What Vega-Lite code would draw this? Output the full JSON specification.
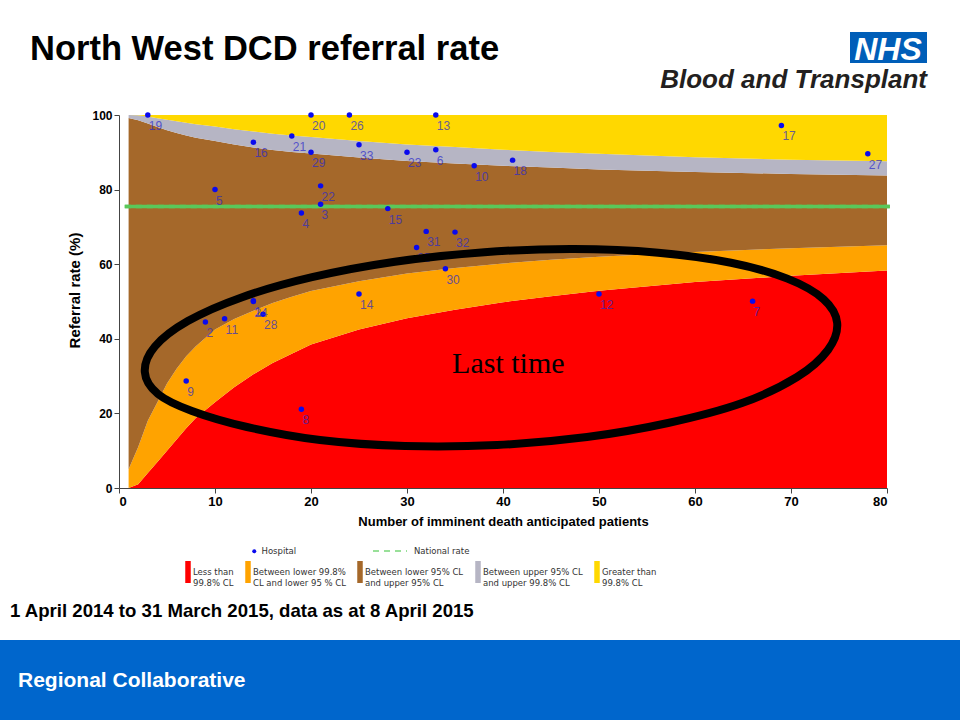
{
  "$schema": "https://vega.github.io/schema/vega-lite/v6.json",
  "width": 960,
  "height": 720,
  "autosize": {"type": "none"},
  "padding": 0,
  "background": "#ffffff",
  "config": {"view": {"stroke": null}, "font": "Liberation Sans"},
  "datasets": {
    "funnel": [
      {"n": 1, "l998": 0, "l95": 5, "u95": 99.2, "u998": 100},
      {"n": 2, "l998": 1, "l95": 11, "u95": 98.6, "u998": 99.9},
      {"n": 3, "l998": 4, "l95": 18, "u95": 97.7, "u998": 99.6},
      {"n": 4, "l998": 7, "l95": 23, "u95": 96.8, "u998": 99.1},
      {"n": 5, "l998": 10, "l95": 28, "u95": 95.9, "u998": 98.7},
      {"n": 6, "l998": 13, "l95": 32, "u95": 95.2, "u998": 98.3},
      {"n": 7, "l998": 16, "l95": 35.3, "u95": 94.5, "u998": 97.9},
      {"n": 8, "l998": 18.8, "l95": 38, "u95": 93.9, "u998": 97.5},
      {"n": 10, "l998": 23, "l95": 42.5, "u95": 93, "u998": 96.9},
      {"n": 12, "l998": 27, "l95": 45.3, "u95": 92.1, "u998": 96.2},
      {"n": 14, "l998": 30.5, "l95": 47.5, "u95": 91.3, "u998": 95.6},
      {"n": 16, "l998": 33.5, "l95": 49.6, "u95": 90.6, "u998": 95},
      {"n": 18, "l998": 36, "l95": 51.3, "u95": 90.1, "u998": 94.5},
      {"n": 20, "l998": 38.5, "l95": 52.8, "u95": 89.7, "u998": 94.1},
      {"n": 25, "l998": 42.5, "l95": 55.4, "u95": 88.6, "u998": 93},
      {"n": 30, "l998": 45.5, "l95": 57.5, "u95": 87.7, "u998": 92.1},
      {"n": 35, "l998": 47.8, "l95": 59, "u95": 87, "u998": 91.4},
      {"n": 40, "l998": 49.8, "l95": 60.2, "u95": 86.4, "u998": 90.7},
      {"n": 45, "l998": 51.4, "l95": 61.2, "u95": 85.9, "u998": 90.1},
      {"n": 50, "l998": 52.9, "l95": 62, "u95": 85.4, "u998": 89.6},
      {"n": 60, "l998": 55.2, "l95": 63.3, "u95": 84.7, "u998": 88.7},
      {"n": 70, "l998": 56.9, "l95": 64.3, "u95": 84.2, "u998": 88},
      {"n": 80, "l998": 58.3, "l95": 65.1, "u95": 83.8, "u998": 87.6}
    ],
    "hosp": [
      {"id": "1", "n": 14, "rate": 50.2},
      {"id": "2", "n": 9, "rate": 44.5},
      {"id": "3", "n": 21, "rate": 76.1},
      {"id": "4", "n": 19, "rate": 73.7},
      {"id": "5", "n": 10, "rate": 80.0},
      {"id": "6", "n": 33, "rate": 90.7},
      {"id": "7", "n": 66, "rate": 50.1},
      {"id": "8", "n": 19, "rate": 21.1},
      {"id": "9", "n": 7, "rate": 28.7},
      {"id": "10", "n": 37, "rate": 86.4},
      {"id": "11", "n": 11, "rate": 45.4},
      {"id": "12", "n": 50, "rate": 52.0},
      {"id": "13", "n": 33, "rate": 100},
      {"id": "14", "n": 25, "rate": 52.0},
      {"id": "15", "n": 28, "rate": 74.9},
      {"id": "16", "n": 14, "rate": 92.7},
      {"id": "17", "n": 69, "rate": 97.2},
      {"id": "18", "n": 41, "rate": 87.9},
      {"id": "19", "n": 3, "rate": 100},
      {"id": "20", "n": 20, "rate": 100},
      {"id": "21", "n": 18, "rate": 94.4},
      {"id": "22", "n": 21, "rate": 81.0},
      {"id": "23", "n": 30, "rate": 90.0},
      {"id": "24", "n": 14, "rate": 50.0},
      {"id": "25", "n": 31, "rate": 64.5},
      {"id": "26", "n": 24, "rate": 100},
      {"id": "27", "n": 78, "rate": 89.6},
      {"id": "28", "n": 15, "rate": 46.6},
      {"id": "29", "n": 20, "rate": 90.0},
      {"id": "30", "n": 34, "rate": 58.8},
      {"id": "31", "n": 32, "rate": 68.8},
      {"id": "32", "n": 35, "rate": 68.6},
      {"id": "33", "n": 25, "rate": 92.0}
    ],
    "ellipse": [
      {"i": 1, "n": 74.81, "rate": 44.24},
      {"i": 2, "n": 73.39, "rate": 50.63},
      {"i": 3, "n": 69.62, "rate": 56.14},
      {"i": 4, "n": 63.75, "rate": 60.39},
      {"i": 5, "n": 56.17, "rate": 63.09},
      {"i": 6, "n": 47.4, "rate": 64.06},
      {"i": 7, "n": 38.05, "rate": 63.23},
      {"i": 8, "n": 28.74, "rate": 60.66},
      {"i": 9, "n": 20.11, "rate": 56.52},
      {"i": 10, "n": 12.76, "rate": 51.1},
      {"i": 11, "n": 7.17, "rate": 44.76},
      {"i": 12, "n": 3.74, "rate": 37.94},
      {"i": 13, "n": 2.69, "rate": 31.1},
      {"i": 14, "n": 4.06, "rate": 25.2},
      {"i": 15, "n": 7.6, "rate": 20.64},
      {"i": 16, "n": 13.33, "rate": 16.35},
      {"i": 17, "n": 20.94, "rate": 12.87},
      {"i": 18, "n": 29.79, "rate": 11.26},
      {"i": 19, "n": 39.38, "rate": 11.53},
      {"i": 20, "n": 48.75, "rate": 13.67},
      {"i": 21, "n": 57.19, "rate": 17.43},
      {"i": 22, "n": 64.9, "rate": 22.79},
      {"i": 23, "n": 70.63, "rate": 29.76},
      {"i": 24, "n": 73.85, "rate": 37.0}
    ]
  },
  "layer": [
    {
      "layer": [
        {
          "data": {"name": "funnel"},
          "mark": {"type": "area", "opacity": 1},
          "encoding": {
            "x": {
              "field": "n", "type": "quantitative",
              "scale": {"domain": [0, 80], "range": [119, 887], "nice": false, "zero": false},
              "axis": {
                "title": "Number of imminent death anticipated patients",
                "offset": -232, "values": [0, 10, 20, 30, 40, 50, 60, 70, 80],
                "grid": false, "tickSize": 5, "domainColor": "#444444", "tickColor": "#444444",
                "labelFont": "Liberation Sans Narrow, Liberation Sans", "labelFontWeight": "bold", "labelFontSize": 13, "labelColor": "#000000", "labelPadding": 2,
                "titleFont": "Liberation Sans Narrow, Liberation Sans", "titleFontWeight": "bold", "titleFontSize": 13, "titleColor": "#000000", "titlePadding": 7
              }
            },
            "y": {
              "field": "l998", "type": "quantitative",
              "scale": {"domain": [0, 100], "range": [488, 115], "nice": false, "zero": false},
              "axis": {
                "title": "Referral rate (%)",
                "offset": -119, "values": [0, 20, 40, 60, 80, 100],
                "grid": false, "tickSize": 5, "domainColor": "#444444", "tickColor": "#444444",
                "labelFontWeight": "bold", "labelFontSize": 12, "labelColor": "#000000", "labelPadding": 2,
                "titleFontWeight": "bold", "titleFontSize": 15, "titleColor": "#000000", "titlePadding": 9, "titleY": 290
              }
            },
            "y2": {"datum": 0},
            "color": {
              "datum": "Less than|99.8% CL", "type": "nominal",
              "scale": {
                "domain": ["Less than|99.8% CL", "Between lower 99.8%|CL and lower 95 % CL", "Between lower 95% CL|and upper 95% CL", "Between upper 95% CL|and upper 99.8% CL", "Greater than|99.8% CL"],
                "range": ["#ff0000", "#ffa300", "#a5682a", "#b6b5c4", "#ffd800"]
              },
              "legend": {
                "orient": "none", "legendX": 177, "legendY": 561, "direction": "horizontal", "columns": 5, "title": null,
                "symbolType": "M-0.25,-1H0.25V1H-0.25Z", "symbolSize": 484, "symbolStrokeWidth": 0,
                "labelExpr": "split(datum.label, '|')", "labelFont": "DejaVu Sans", "labelFontSize": 8.5, "labelColor": "#333333",
                "labelOffset": -6, "labelLimit": 300, "columnPadding": 3, "padding": 0,
                "encode": {"labels": {"update": {"lineHeight": {"value": 11.5}}}}
              }
            }
          }
        },
        {
          "data": {"name": "funnel"},
          "mark": {"type": "area", "opacity": 1},
          "encoding": {
            "x": {"field": "n", "type": "quantitative", "title": "Number of imminent death anticipated patients"},
            "y": {"field": "l95", "type": "quantitative", "title": "Referral rate (%)"},
            "y2": {"field": "l998"},
            "color": {"datum": "Between lower 99.8%|CL and lower 95 % CL", "type": "nominal"}
          }
        },
        {
          "data": {"name": "funnel"},
          "mark": {"type": "area", "opacity": 1},
          "encoding": {
            "x": {"field": "n", "type": "quantitative", "title": "Number of imminent death anticipated patients"},
            "y": {"field": "u95", "type": "quantitative", "title": "Referral rate (%)"},
            "y2": {"field": "l95"},
            "color": {"datum": "Between lower 95% CL|and upper 95% CL", "type": "nominal"}
          }
        },
        {
          "data": {"name": "funnel"},
          "mark": {"type": "area", "opacity": 1},
          "encoding": {
            "x": {"field": "n", "type": "quantitative", "title": "Number of imminent death anticipated patients"},
            "y": {"field": "u998", "type": "quantitative", "title": "Referral rate (%)"},
            "y2": {"field": "u95"},
            "color": {"datum": "Between upper 95% CL|and upper 99.8% CL", "type": "nominal"}
          }
        },
        {
          "data": {"name": "funnel"},
          "mark": {"type": "area", "opacity": 1},
          "encoding": {
            "x": {"field": "n", "type": "quantitative", "title": "Number of imminent death anticipated patients"},
            "y": {"field": "u998", "type": "quantitative", "title": "Referral rate (%)"},
            "y2": {"datum": 100},
            "color": {"datum": "Greater than|99.8% CL", "type": "nominal"}
          }
        },
        {
          "data": {"values": [{"n": 0.6, "n2": 80.3, "rate": 75.5}]},
          "mark": {"type": "rule", "color": "#5ac85a", "strokeWidth": 3.5},
          "encoding": {
            "x": {"field": "n", "type": "quantitative", "title": "Number of imminent death anticipated patients"},
            "x2": {"field": "n2"},
            "y": {"field": "rate", "type": "quantitative", "title": "Referral rate (%)"}
          }
        },
        {
          "data": {"values": [{"n": 0.6, "n2": 80.3, "rate": 75.5}]},
          "mark": {"type": "rule", "color": "#5ac85a", "strokeWidth": 3.5},
          "encoding": {
            "x": {"field": "n", "type": "quantitative", "title": "Number of imminent death anticipated patients"},
            "x2": {"field": "n2"},
            "y": {"field": "rate", "type": "quantitative", "title": "Referral rate (%)"},
            "strokeDash": {
              "datum": "National rate", "type": "nominal",
              "scale": {"domain": ["National rate"], "range": [[6, 5]]},
              "legend": {
                "orient": "none", "legendX": 372, "legendY": 533, "title": null,
                "symbolType": "stroke", "symbolSize": 1156, "symbolStrokeWidth": 2, "symbolStrokeColor": "#99e099",
                "labelFont": "DejaVu Sans", "labelFontSize": 8.5, "labelColor": "#333333", "labelOffset": 6, "padding": 0
              }
            }
          }
        },
        {
          "data": {"name": "hosp"},
          "mark": {"type": "point", "filled": true, "opacity": 1, "color": "#0a0aee", "size": 30},
          "encoding": {
            "x": {"field": "n", "type": "quantitative", "title": "Number of imminent death anticipated patients"},
            "y": {"field": "rate", "type": "quantitative", "title": "Referral rate (%)"},
            "shape": {
              "datum": "Hospital", "type": "nominal",
              "scale": {"domain": ["Hospital"], "range": ["circle"]},
              "legend": {
                "orient": "none", "legendX": 250, "legendY": 547, "title": null,
                "symbolSize": 16, "symbolFillColor": "#1010ee", "symbolStrokeWidth": 0,
                "labelFont": "DejaVu Sans", "labelFontSize": 8.5, "labelColor": "#333333", "labelOffset": 3, "padding": 0
              }
            }
          }
        },
        {
          "data": {"name": "hosp"},
          "mark": {"type": "text", "align": "left", "baseline": "alphabetic", "dx": 1, "dy": 15, "fontSize": 12, "color": "#2a2acc", "opacity": 0.7},
          "encoding": {
            "x": {"field": "n", "type": "quantitative", "title": "Number of imminent death anticipated patients"},
            "y": {"field": "rate", "type": "quantitative", "title": "Referral rate (%)"},
            "text": {"field": "id", "type": "nominal"}
          }
        },
        {
          "data": {"name": "ellipse"},
          "mark": {"type": "line", "interpolate": "cardinal-closed", "color": "#000000", "strokeWidth": 8},
          "encoding": {
            "x": {"field": "n", "type": "quantitative", "title": "Number of imminent death anticipated patients"},
            "y": {"field": "rate", "type": "quantitative", "title": "Referral rate (%)"},
            "order": {"field": "i", "type": "quantitative"}
          }
        },
        {
          "data": {"values": [{"n": 34.7, "rate": 30.8, "note": "Last time"}]},
          "mark": {"type": "text", "align": "left", "baseline": "alphabetic", "font": "Liberation Serif", "fontSize": 30, "color": "#000000"},
          "encoding": {
            "x": {"field": "n", "type": "quantitative", "title": "Number of imminent death anticipated patients"},
            "y": {"field": "rate", "type": "quantitative", "title": "Referral rate (%)"},
            "text": {"field": "note", "type": "nominal"}
          }
        }
      ]
    },
    {
      "data": {"values": [{}]},
      "layer": [
        {
          "mark": {"type": "rect", "color": "#0066cc"},
          "encoding": {
            "x": {"datum": 0, "type": "quantitative", "scale": {"domain": [0, 960], "range": [0, 960], "nice": false, "zero": false}, "axis": null},
            "x2": {"datum": 960},
            "y": {"datum": 640, "type": "quantitative", "scale": {"domain": [0, 720], "range": [0, 720], "nice": false, "zero": false}, "axis": null},
            "y2": {"datum": 720}
          }
        },
        {
          "mark": {"type": "text", "text": "Regional Collaborative", "align": "left", "baseline": "alphabetic", "fontSize": 21, "fontWeight": "bold", "color": "#ffffff"},
          "encoding": {
            "x": {"datum": 18, "type": "quantitative", "axis": null},
            "y": {"datum": 687, "type": "quantitative", "axis": null}
          }
        },
        {
          "mark": {"type": "text", "text": "1 April 2014 to 31 March 2015, data as at 8 April 2015", "align": "left", "baseline": "alphabetic", "fontSize": 18.6, "fontWeight": "bold", "color": "#000000"},
          "encoding": {
            "x": {"datum": 10, "type": "quantitative", "axis": null},
            "y": {"datum": 617, "type": "quantitative", "axis": null}
          }
        },
        {
          "mark": {"type": "text", "text": "North West DCD referral rate", "align": "left", "baseline": "alphabetic", "fontSize": 34.5, "fontWeight": "bold", "color": "#000000"},
          "encoding": {
            "x": {"datum": 30, "type": "quantitative", "axis": null},
            "y": {"datum": 60, "type": "quantitative", "axis": null}
          }
        },
        {
          "mark": {"type": "rect", "color": "#005eb8"},
          "encoding": {
            "x": {"datum": 850, "type": "quantitative", "axis": null},
            "x2": {"datum": 927},
            "y": {"datum": 32, "type": "quantitative", "axis": null},
            "y2": {"datum": 63}
          }
        },
        {
          "mark": {"type": "text", "text": "NHS", "align": "center", "baseline": "alphabetic", "fontSize": 32, "fontWeight": "bold", "fontStyle": "italic", "color": "#ffffff"},
          "encoding": {
            "x": {"datum": 888, "type": "quantitative", "axis": null},
            "y": {"datum": 60, "type": "quantitative", "axis": null}
          }
        },
        {
          "mark": {"type": "text", "text": "Blood and Transplant", "align": "right", "baseline": "alphabetic", "fontSize": 26, "fontWeight": "bold", "fontStyle": "italic", "color": "#231f20"},
          "encoding": {
            "x": {"datum": 927, "type": "quantitative", "axis": null},
            "y": {"datum": 88, "type": "quantitative", "axis": null}
          }
        }
      ]
    }
  ],
  "resolve": {"scale": {"x": "independent", "y": "independent"}}
}
